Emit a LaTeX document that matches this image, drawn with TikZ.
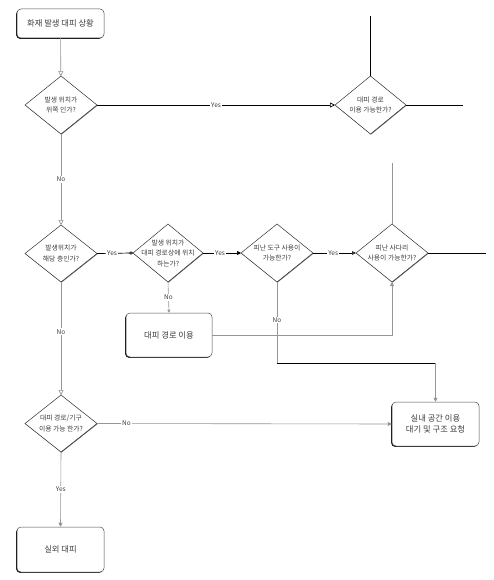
\documentclass[tikz,border=0pt]{standalone}
\usepackage{fontspec}
\newfontfamily\kr{Noto Sans CJK KR}
\usetikzlibrary{arrows.meta,shapes.geometric,shadows}
\definecolor{lgrey}{RGB}{150,150,150}
\definecolor{tgrey}{RGB}{60,60,60}
\tikzset{
  gline/.style={draw=lgrey, line width=0.6pt},
  bline/.style={draw=black, line width=0.7pt},
  oarrow/.style={-{Triangle[open,length=5pt,width=5pt]}},
  farrow/.style={-{Triangle[length=4pt,width=4pt]}},
  carrow/.style={-{Circle[open,length=4pt,width=3pt]}},
  procbox/.style={draw=black!70, fill=white, rounded corners=4pt, line width=0.5pt,
    inner sep=0pt, align=center, text=tgrey, font=\kr\fontsize{8.3}{10.5}\selectfont,
    drop shadow={shadow xshift=-0.9pt, shadow yshift=-0.9pt, fill=black, opacity=0.9}},
  decbox/.style={diamond, draw=black!80, fill=white, line width=0.5pt,
    minimum width=72pt, minimum height=58pt, inner sep=0pt, outer sep=0pt,
    drop shadow={shadow xshift=0.5pt, shadow yshift=-0.6pt, fill=black, opacity=0.6}},
  dtxt/.style={align=center, text=tgrey, font=\kr\fontsize{6.8}{10.5}\selectfont, inner sep=0pt},
  lab/.style={fill=white, inner sep=1pt, text=tgrey, font=\kr\fontsize{6.5}{7}\selectfont}
}
\begin{document}
\begin{tikzpicture}[x=1pt,y=-1pt]
\useasboundingbox (0,0) rectangle (493,580);
\fill[white] (0,0) rectangle (493,580);

% process boxes
\node[procbox, minimum width=87pt, minimum height=29pt] (start) at (60.5,23.5) {화재 발생 대피 상황};
\node[procbox, minimum width=86pt, minimum height=44pt] (route) at (169,335) {대피 경로 이용};
\node[procbox, minimum width=87pt, minimum height=44pt] (indoor) at (435.5,424) {실내 공간 이용\\대기 및 구조 요청};
\node[procbox, minimum width=87pt, minimum height=45pt] (outdoor) at (60.5,549.5) {실외 대피};

% decisions
\node[decbox] (d1) at (61,105) {};
\node[dtxt] (t1) at (d1) {발생 위치가\\위쪽 인가?};
\node[decbox, minimum width=71pt] (d2) at (370.5,105) {};
\node[dtxt] (t2) at (d2) {대피 경로\\이용 가능한가?};
\node[decbox, minimum height=57pt] (d3) at (61,253.5) {};
\node[dtxt] (t3) at (d3) {발생위치가\\해당 층인가?};
\node[decbox, minimum width=70pt] (d4) at (168,253) {};
\node[dtxt] (t4) at (d4) {발생 위치가\\대피 경로상에 위치\\하는가?};
\node[decbox] (d5) at (277,253) {};
\node[dtxt] (t5) at (d5) {피난 도구 사용이\\가능한가?};
\node[decbox] (d6) at (392,253) {};
\node[dtxt] (t6) at (d6) {피난 사다리\\사용이 가능한가?};
\node[decbox, minimum height=57pt] (d7) at (61,423.5) {};
\node[dtxt] (t7) at (d7) {대피 경로/기구\\이용 가능 한가?};

% free ends
\coordinate (top2) at (370.5,16);
\coordinate (right2) at (463,105);
\coordinate (up6) at (392,163);
\coordinate (right6) at (486,253);
\coordinate (k1) at (277,363);
\coordinate (k2) at (435.5,363);

% connectors
\draw[gline, oarrow] (start) -- (d1);
\draw[bline, oarrow] (d1.east) -- node[lab, pos=0.5]{Yes} (d2.west);
\draw[bline] (top2) -- (d2.north);
\draw[bline] (d2.east) -- (right2);
\draw[gline] (up6) -- (d6.north);
\draw[gline, oarrow] (d1.south) -- node[lab, pos=0.5]{No} (d3.north);
\draw[bline, carrow] (d3.east) -- node[lab, pos=0.42]{Yes} (d4.west);
\draw[bline, farrow] (d4.east) -- node[lab, pos=0.45]{Yes} (d5.west);
\draw[bline, -{Triangle[open,length=4pt,width=3.5pt]}] (d5.east) -- node[lab, pos=0.47]{Yes} (d6.west);
\draw[bline] (d6.east) -- (right6);
\draw[gline, -{Triangle[length=3pt,width=3pt]}] (d4.south) -- node[lab, pos=0.5]{No} (route.north);
\draw[gline, farrow] (route.east) -| (d6.south);
\draw[gline] (d5.south) -- node[lab, pos=0.47]{No} (k1);
\draw[bline] (k1) -- (k2);
\draw[gline, farrow] (k2) -- (indoor.north);
\draw[gline, oarrow] (d3.south) -- node[lab, pos=0.44]{No} (d7.north);
\draw[gline, farrow] (d7.east) -- node[lab, pos=0.1]{No} (indoor.west);
\draw[gline, farrow] (d7.south) -- node[lab, pos=0.5]{Yes} (outdoor.north);
\end{tikzpicture}
\end{document}
